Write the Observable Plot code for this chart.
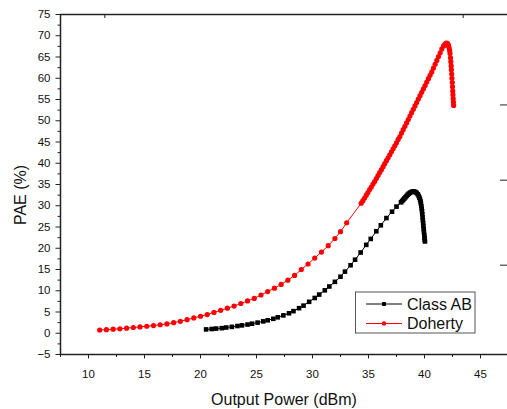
<!DOCTYPE html>
<html><head><meta charset="utf-8">
<script src="https://cdn.jsdelivr.net/npm/d3@7"></script>
<script src="https://cdn.jsdelivr.net/npm/@observablehq/plot@0.6"></script>
<style>
html,body{margin:0;padding:0;background:#fff;}
#chart{position:relative;width:507px;height:409px;overflow:hidden;}
</style></head><body><div id="chart"></div>
<script>
const FONT = '"Liberation Sans", Arial, Helvetica, sans-serif';
const seriesNames = ["Class AB", "Doherty"];
const seriesColors = ["#000000", "#ff0000"];
const seriesSymbols = ["square", "circle"];

const classABPout = [20.5, 21.0, 21.4, 21.9, 22.3, 22.8, 23.3, 23.7, 24.2, 24.6,
  25.1, 25.6, 26.0, 26.5, 26.9, 27.4, 27.9, 28.3, 28.8, 29.2,
  29.7, 30.2, 30.6, 31.1, 31.5, 32.0, 32.5, 32.9, 33.4, 33.8,
  34.3, 34.8, 35.2, 35.7, 36.1, 36.6, 37.1, 37.5,
  37.9, 38.0, 38.1, 38.2, 38.3, 38.4, 38.5, 38.6, 38.7, 38.8, 38.9,
  39.0, 39.1, 39.2, 39.3, 39.4, 39.48, 39.55, 39.6, 39.65, 39.68, 39.72, 39.75, 39.78,
  39.8, 39.83, 39.85, 39.88, 39.9, 39.93, 39.95, 39.98, 40.0, 40.02, 40.04];
const classABPAE = [0.9, 1.0, 1.1, 1.2, 1.35, 1.5, 1.7, 1.85, 2.05, 2.25,
  2.5, 2.8, 3.05, 3.4, 3.75, 4.2, 4.7, 5.2, 5.9, 6.5,
  7.4, 8.3, 9.1, 10.1, 11.0, 12.1, 13.3, 14.5, 16.0, 17.3,
  19.0, 20.8, 22.2, 24.0, 25.4, 27.1, 28.6, 29.8,
  30.8, 31.1, 31.4, 31.7, 32.0, 32.3, 32.6, 32.85, 33.05, 33.2, 33.3,
  33.35, 33.3, 33.2, 33.0, 32.7, 32.3, 31.9, 31.5, 31.0, 30.5, 29.9, 29.3, 28.7,
  28.0, 27.3, 26.6, 25.9, 25.2, 24.5, 23.8, 23.1, 22.5, 22.0, 21.6];

const dohertyPout = [11.0, 11.6, 12.2, 12.8, 13.4, 14.0, 14.6, 15.2, 15.8, 16.4,
  17.0, 17.6, 18.2, 18.8, 19.4, 20.0, 20.6, 21.2, 21.8, 22.4,
  23.0, 23.6, 24.2, 24.8, 25.4, 26.0, 26.6, 27.2, 27.8, 28.4,
  29.0, 29.6, 30.2, 30.8, 31.4, 32.0, 32.5, 33.05,
  34.35, 34.5, 34.65, 34.8, 34.95, 35.1, 35.25, 35.4, 35.55, 35.7,
  35.85, 36.0, 36.15, 36.3, 36.45, 36.6, 36.75, 36.9, 37.05, 37.2,
  37.35, 37.5, 37.65, 37.8, 37.95, 38.1, 38.25, 38.4, 38.55, 38.7,
  38.85, 39.0, 39.15, 39.3, 39.45, 39.6, 39.75, 39.9, 40.05, 40.2,
  40.35, 40.5, 40.65, 40.8, 40.95, 41.1, 41.25, 41.4, 41.55, 41.7,
  41.82, 41.94, 42.05, 42.1, 42.15, 42.2, 42.25, 42.28, 42.32, 42.35,
  42.38, 42.4, 42.43, 42.45, 42.48, 42.5, 42.52, 42.54, 42.56, 42.58, 42.6];
const dohertyPAE = [0.75, 0.85, 0.95, 1.05, 1.2, 1.35, 1.5, 1.65, 1.8, 2.0,
  2.2, 2.5, 2.8, 3.2, 3.6, 4.0, 4.4, 4.9, 5.4, 5.9,
  6.4, 7.0, 7.6, 8.2, 9.0, 9.8, 10.6, 11.5, 12.5, 13.6,
  15.0, 16.3, 17.7, 19.1, 20.6, 22.3, 23.9, 26.0,
  30.6, 31.2, 31.8, 32.5, 33.1, 33.8, 34.4, 35.1, 35.7, 36.4,
  37.1, 37.8, 38.5, 39.2, 39.9, 40.6, 41.3, 42.0, 42.7, 43.4,
  44.1, 44.8, 45.6, 46.3, 47.1, 47.9, 48.7, 49.5, 50.3, 51.1,
  51.9, 52.7, 53.5, 54.3, 55.1, 55.9, 56.7, 57.5, 58.3, 59.1,
  59.9, 60.7, 61.5, 62.4, 63.3, 64.2, 65.1, 66.0, 66.9, 67.6,
  68.0, 68.3, 68.2, 68.0, 67.6, 67.1, 66.5, 65.8, 64.8, 63.9,
  62.9, 62.0, 61.0, 60.0, 59.0, 58.0, 57.0, 56.1, 55.2, 54.4, 53.6];

const xDomain = [7.5, 47.5];
const yDomain = [-5, 75];
const xTicks = [10, 15, 20, 25, 30, 35, 40, 45];
const xMinorTicks = [7.5, 12.5, 17.5, 22.5, 27.5, 32.5, 37.5, 42.5, 47.5];
const yTicks = [-5, 0, 5, 10, 15, 20, 25, 30, 35, 40, 45, 50, 55, 60, 65, 70, 75];
const yMinorTicks = [-2.5, 2.5, 7.5, 12.5, 17.5, 22.5, 27.5, 32.5, 37.5, 42.5, 47.5, 52.5, 57.5, 62.5, 67.5, 72.5];
const topTicks = [11.5, 43.5];
const rightTicks = [53.6, 35.9, 15.9];
const xLabel = "Output Power (dBm)";
const yLabel = "PAE (%)";

const rows = [];
classABPout.forEach((x, i) => rows.push({series: seriesNames[0], x, y: classABPAE[i]}));
dohertyPout.forEach((x, i) => rows.push({series: seriesNames[1], x, y: dohertyPAE[i]}));

const AX = "#222";
const chart = Plot.plot({
  width: 507, height: 409,
  marginLeft: 60, marginRight: -1, marginTop: 14, marginBottom: 55,
  x: {domain: xDomain, label: null},
  y: {domain: yDomain, label: null},
  color: {domain: seriesNames, range: seriesColors},
  symbol: {domain: seriesNames, range: seriesSymbols},
  style: {fontFamily: FONT, fontSize: "11.5px", color: "#111", background: "white"},
  marks: [
    Plot.axisY({ticks: yMinorTicks, tickSize: 2.5, tickFormat: () => "", label: null, stroke: AX}),
    Plot.axisY({ticks: yTicks, tickSize: 4.5, tickPadding: 5.5, label: null, stroke: AX, fontSize: 11.5}),
    Plot.axisX({ticks: xMinorTicks, tickSize: 3, tickFormat: () => "", label: null, stroke: AX}),
    Plot.axisX({ticks: xTicks, tickSize: 4.5, tickPadding: 10.5, label: null, stroke: AX, fontSize: 11.5}),
    Plot.line(rows, {x: "x", y: "y", z: "series", stroke: "series", strokeWidth: 1}),
    Plot.dot(rows, {x: "x", y: "y", fill: "series", symbol: "series", r: 2.6, stroke: "none"}),
    Plot.frame({stroke: AX, strokeWidth: 1.5})
  ]
});
document.getElementById("chart").appendChild(chart);

const svg = d3.select(chart);
const sx = chart.scale("x"), sy = chart.scale("y");
const x0 = sx.apply(xDomain[0]), x1 = sx.apply(xDomain[1]);
const yTop = sy.apply(yDomain[1]), yBot = sy.apply(yDomain[0]);

// inward ticks on top and right edges
svg.append("g").attr("stroke", AX).attr("stroke-width", 1)
  .selectAll("line").data(topTicks).join("line")
  .attr("x1", d => sx.apply(d)).attr("x2", d => sx.apply(d))
  .attr("y1", yTop).attr("y2", yTop + 4);
svg.append("g").attr("stroke", AX).attr("stroke-width", 1)
  .selectAll("line").data(rightTicks).join("line")
  .attr("x1", x1 - 8).attr("x2", x1)
  .attr("y1", d => sy.apply(d)).attr("y2", d => sy.apply(d));

// axis titles
svg.append("text").attr("x", (x0 + x1) / 2).attr("y", 405)
  .attr("text-anchor", "middle").attr("font-family", FONT).attr("font-size", 16)
  .attr("fill", "#111").text(xLabel);
svg.append("text").attr("transform", `translate(25.5,${(yTop + yBot) / 2 + 11}) rotate(-90)`)
  .attr("text-anchor", "middle").attr("font-family", FONT).attr("font-size", 16)
  .attr("fill", "#111").text(yLabel);

// legend
const lg = svg.append("g");
lg.append("rect").attr("x", 355.5).attr("y", 292).attr("width", 119.5).attr("height", 41)
  .attr("fill", "white").attr("stroke", "#555").attr("stroke-width", 1);
seriesNames.forEach((name, i) => {
  const cy = 304 + i * 19.5;
  lg.append("line").attr("x1", 366).attr("x2", 402).attr("y1", cy).attr("y2", cy)
    .attr("stroke", seriesColors[i]).attr("stroke-width", 1);
  lg.append("path").attr("transform", `translate(384,${cy})`)
    .attr("d", d3.symbol(i === 0 ? d3.symbolSquare : d3.symbolCircle, 15)())
    .attr("fill", seriesColors[i]);
  lg.append("text").attr("x", 407).attr("y", cy + 5.5).attr("text-anchor", "start")
    .attr("font-family", FONT).attr("font-size", 16).attr("fill", "#111").text(name);
});
</script></body></html>
